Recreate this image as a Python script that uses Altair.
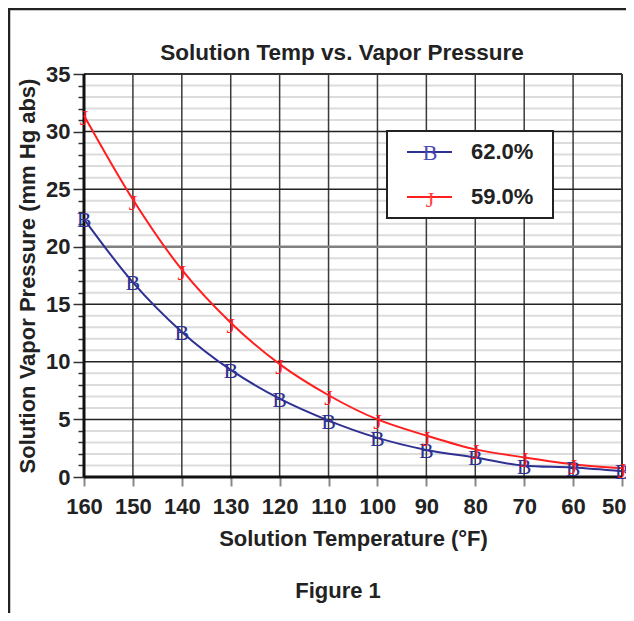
import altair as alt
import pandas as pd

# ---- data ----
temps = [160, 150, 140, 130, 120, 110, 100, 90, 80, 70, 60, 50]
p62 = [22.4, 16.9, 12.6, 9.3, 6.8, 4.9, 3.4, 2.35, 1.7, 0.98, 0.82, 0.5]
p59 = [31.4, 24.1, 18.0, 13.4, 9.8, 7.1, 5.0, 3.6, 2.4, 1.7, 1.1, 0.75]
series = ["62.0%", "59.0%"]
glyphs = ["B", "J"]
colors = ["#2E3192", "#FF1F1F"]
glyph_colors = ["#4A4AB0", "#FF4040"]
y_minor = [v for v in range(0, 36) if v % 5]
y_major = [5, 10, 15, 25, 30]
y_mid = [20]

rows = []
for s, g, vals in [(series[0], glyphs[0], p62), (series[1], glyphs[1], p59)]:
    for t, v in zip(temps, vals):
        rows.append({"temp": t, "pressure": v, "series": s, "glyph": g})
df = pd.DataFrame(rows)

FONT = "Liberation Sans"
xs = alt.Scale(domain=[50, 160], reverse=True, nice=False, zero=False)
ys = alt.Scale(domain=[0, 35], nice=False, zero=False)
cs = alt.Scale(domain=series, range=colors)
gs = alt.Scale(domain=series, range=glyph_colors)

x_axis = alt.Axis(values=temps, tickSize=9, tickColor="#888888", tickWidth=2,
                  domain=False, grid=False, labelPadding=10, labelOverlap=False,
                  labelFlush=False,
                  labelAlign={"condition": {"test": "datum.value == 50", "value": "right"},
                              "value": "center"},
                  labelOffset={"condition": {"test": "datum.value == 50", "value": 4},
                               "value": 0},
                  title="Solution Temperature (°F)", titlePadding=11)
y_axis = alt.Axis(values=list(range(0, 36)),
                  labelExpr="datum.value % 5 == 0 ? datum.label : ''",
                  tickSize={"condition": {"test": "datum.value % 5 == 0", "value": 11}, "value": 6},
                  tickColor="#333333", tickWidth=1.5, domain=False, grid=False,
                  labelPadding=3, labelOverlap=False, labelFlush=False,
                  title="Solution Vapor Pressure (mm Hg abs)", titlePadding=6)


def X(field):
    return alt.X(field, scale=xs, axis=x_axis)


def Y(field):
    return alt.Y(field, scale=ys, axis=y_axis)


minor = alt.Chart(pd.DataFrame({"y": y_minor})).mark_rule(
    color="#DCDCDC", strokeWidth=2).encode(y=Y("y:Q"))
xgrid = alt.Chart(pd.DataFrame({"x": temps[1:-1]})).mark_rule(
    color="#3A3A3A", strokeWidth=1.5).encode(x=X("x:Q"))
major = alt.Chart(pd.DataFrame({"y": y_major})).mark_rule(
    color="#222222", strokeWidth=1.5).encode(y=Y("y:Q"))
mid = alt.Chart(pd.DataFrame({"y": y_mid})).mark_rule(
    color="#808080", strokeWidth=2.5).encode(y=Y("y:Q"))
top = alt.Chart(pd.DataFrame({"y": [35]})).mark_rule(
    color="#333333", strokeWidth=2).encode(y=Y("y:Q"))
right = alt.Chart(pd.DataFrame({"x": [50]})).mark_rule(
    color="#333333", strokeWidth=2).encode(x=X("x:Q"))
bottom = alt.Chart(pd.DataFrame({"y": [0]})).mark_rule(
    color="#111111", strokeWidth=3).encode(y=Y("y:Q"))
left = alt.Chart(pd.DataFrame({"x": [160]})).mark_rule(
    color="#111111", strokeWidth=3).encode(x=X("x:Q"))

lines = alt.Chart(df).mark_line(interpolate="monotone", strokeWidth=2).encode(
    x=X("temp:Q"), y=Y("pressure:Q"),
    color=alt.Color("series:N", scale=cs, legend=None),
)

mark_b = alt.Chart(df).transform_filter(alt.datum.series == series[0]).mark_text(
    font="Liberation Serif", fontSize=22, dy=1, baseline="middle").encode(
    x=X("temp:Q"), y=Y("pressure:Q"), text="glyph:N",
    color=alt.Color("series:N", scale=gs, legend=None),
)
mark_j = alt.Chart(df).transform_filter(alt.datum.series == series[1]).mark_text(
    font="Liberation Serif", fontSize=22, dy=3, baseline="middle").encode(
    x=X("temp:Q"), y=Y("pressure:Q"), text="glyph:N",
    color=alt.Color("series:N", scale=gs, legend=None),
)

# ---- legend box (decoration) ----
one = pd.DataFrame({"a": [0]})
leg_box = alt.Chart(one).mark_rect(
    fill="white", stroke="#222222", strokeWidth=2).encode(
    x=alt.value(303), x2=alt.value(469), y=alt.value(57), y2=alt.value(144))
leg_items = []
for i, (s, g, c, gc) in enumerate(zip(series, glyphs, colors, glyph_colors)):
    yy = 78 + 45 * i
    leg_items.append(alt.Chart(one).mark_rule(
        color=c, strokeWidth=2).encode(x=alt.value(323), x2=alt.value(368), y=alt.value(yy)))
    leg_items.append(alt.Chart(one).mark_text(
        font="Liberation Serif", fontSize=22, color=gc, baseline="middle",
        dy=1 if i == 0 else 3).encode(
        x=alt.value(346), y=alt.value(yy), text=alt.value(g)))
    leg_items.append(alt.Chart(one).mark_text(
        font=FONT, fontSize=22, fontWeight="bold", color="#222222",
        align="left", baseline="middle").encode(
        x=alt.value(387), y=alt.value(yy), text=alt.value(s)))

# ---- title, caption, frame ----
title = alt.Chart(one).mark_text(
    font=FONT, fontSize=22.5, fontWeight="bold", color="#222222",
    align="center", baseline="middle").encode(
    x=alt.value(258), y=alt.value(-21), text=alt.value("Solution Temp vs. Vapor Pressure"))
caption = alt.Chart(one).mark_text(
    font=FONT, fontSize=22, fontWeight="bold", color="#222222",
    align="center", baseline="middle").encode(
    x=alt.value(254), y=alt.value(517), text=alt.value("Figure 1"))
frame_top = alt.Chart(one).mark_rule(
    color="#222222", strokeWidth=2.5).encode(
    x=alt.value(-76), x2=alt.value(560), y=alt.value(-65))
frame_left = alt.Chart(one).mark_rule(
    color="#222222", strokeWidth=2.5).encode(
    x=alt.value(-75), y=alt.value(-66), y2=alt.value(540))

chart = alt.layer(
    minor, xgrid, major, mid, top, right, bottom, left,
    lines, mark_b, mark_j, leg_box, *leg_items, title, caption, frame_top, frame_left,
).properties(
    width=538, height=403, autosize="none",
    padding={"left": 76, "top": 66, "right": 4, "bottom": 136},
).configure_view(stroke=None).configure_axis(
    labelFont=FONT, labelFontSize=22, labelFontWeight="bold", labelColor="#222222",
    titleFont=FONT, titleFontSize=22, titleFontWeight="bold", titleColor="#222222",
)

chart.save("out.html", embed_options={"renderer": "svg", "actions": False})
